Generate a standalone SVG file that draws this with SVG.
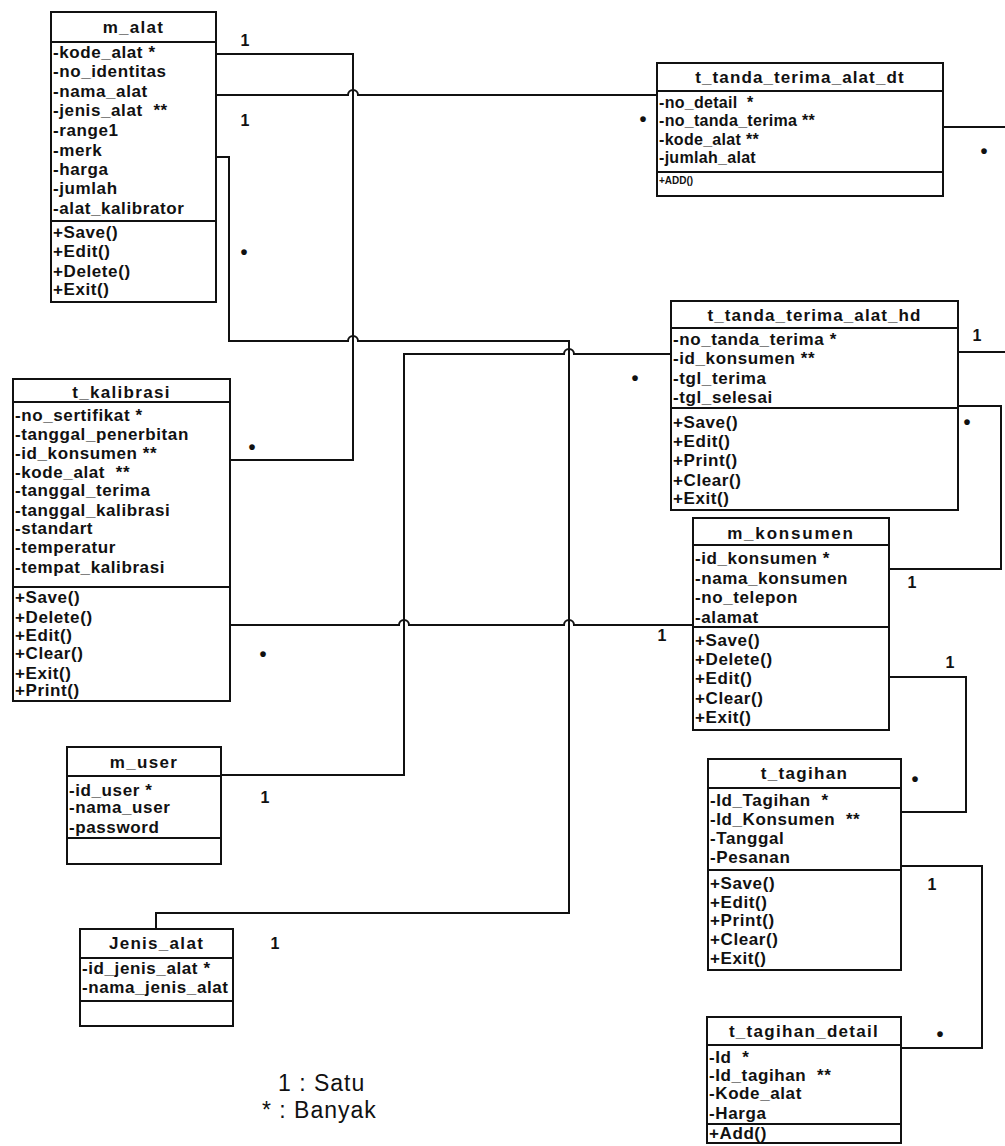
<svg xmlns="http://www.w3.org/2000/svg" width="1005" height="1146" viewBox="0 0 1005 1146">
  <style>
    .box { fill: #fff; stroke: #111; stroke-width: 2; }
    .sep { stroke: #111; stroke-width: 2; }
    .title { font-family: "Liberation Sans", Arial, sans-serif; font-weight: bold; font-size: 17px; letter-spacing: 1.3px; text-anchor: middle; fill: #111; }
    .row { font-family: "Liberation Sans", Arial, sans-serif; font-weight: bold; font-size: 17px; letter-spacing: 0.6px; fill: #111; }
    .small { font-size: 16px; letter-spacing: 0.3px; }
    .tiny { font-size: 10px; letter-spacing: 0; }
    .conn path { fill: none; stroke: #111; stroke-width: 2; }
    .mult { font-family: "Liberation Sans", Arial, sans-serif; font-weight: bold; font-size: 16px; text-anchor: middle; fill: #111; }
    .many { font-family: "Liberation Sans", Arial, sans-serif; font-weight: bold; font-size: 20px; text-anchor: middle; fill: #111; }
    .legend { font-family: "Liberation Sans", Arial, sans-serif; font-size: 23px; letter-spacing: 1px; fill: #111; }
  </style>
  <rect width="1005" height="1146" fill="#fff"/>

  <!-- associations -->
  <g id="connectors" class="conn">
    <path d="M216,54 H353 V460 H230"/>
    <path d="M216,95 H348 A5,5 0 0 1 358,95 H657"/>
    <path d="M943,127 H1005"/>
    <path d="M216,157 H229 V341 H348 A5,5 0 0 1 358,341 H569 V913 H156 V929"/>
    <path d="M221,775 H404 V354 H564 A5,5 0 0 1 574,354 H671"/>
    <path d="M958,352 H1005"/>
    <path d="M230,625 H399 A5,5 0 0 1 409,625 H564 A5,5 0 0 1 574,625 H693"/>
    <path d="M958,406 H1001 V569 H889"/>
    <path d="M889,677 H966 V812 H901"/>
    <path d="M901,866 H982 V1048 H901"/>
  </g>

  <!-- multiplicities -->
  <g id="multiplicities">
    <text class="mult" x="245" y="46">1</text>
    <text class="mult" x="245" y="126">1</text>
    <text class="mult" x="977" y="341">1</text>
    <text class="mult" x="662" y="641">1</text>
    <text class="mult" x="912" y="588">1</text>
    <text class="mult" x="950" y="668">1</text>
    <text class="mult" x="932" y="890">1</text>
    <text class="mult" x="265" y="803">1</text>
    <text class="mult" x="275" y="949">1</text>
    <text class="many" x="252" y="454">•</text>
    <text class="many" x="643" y="126">•</text>
    <text class="many" x="984" y="158">•</text>
    <text class="many" x="244" y="259">•</text>
    <text class="many" x="635" y="385">•</text>
    <text class="many" x="967" y="429">•</text>
    <text class="many" x="263" y="661">•</text>
    <text class="many" x="915" y="786">•</text>
    <text class="many" x="940" y="1041">•</text>
  </g>

  <g id="m_alat">
    <rect class="box" x="51" y="12" width="165" height="290"/>
    <line class="sep" x1="51" y1="42" x2="216" y2="42"/>
    <line class="sep" x1="51" y1="221" x2="216" y2="221"/>
    <text class="title" x="133.5" y="33">m_alat</text>
    <text class="row" x="53" y="58">-kode_alat *</text>
    <text class="row" x="53" y="77">-no_identitas</text>
    <text class="row" x="53" y="97">-nama_alat</text>
    <text class="row" x="53" y="116" xml:space="preserve">-jenis_alat  **</text>
    <text class="row" x="53" y="136">-range1</text>
    <text class="row" x="53" y="156">-merk</text>
    <text class="row" x="53" y="175">-harga</text>
    <text class="row" x="53" y="194">-jumlah</text>
    <text class="row" x="53" y="214">-alat_kalibrator</text>
    <text class="row" x="53" y="238">+Save()</text>
    <text class="row" x="53" y="257">+Edit()</text>
    <text class="row" x="53" y="277">+Delete()</text>
    <text class="row" x="53" y="295">+Exit()</text>
  </g>

  <g id="t_tanda_terima_alat_dt">
    <rect class="box" x="657" y="63" width="286" height="133"/>
    <line class="sep" x1="657" y1="91" x2="943" y2="91"/>
    <line class="sep" x1="657" y1="172" x2="943" y2="172"/>
    <text class="title" x="800" y="83" style="letter-spacing:1.1px">t_tanda_terima_alat_dt</text>
    <text class="row small" x="659" y="108" xml:space="preserve">-no_detail  *</text>
    <text class="row small" x="659" y="126">-no_tanda_terima **</text>
    <text class="row small" x="659" y="145">-kode_alat **</text>
    <text class="row small" x="659" y="163">-jumlah_alat</text>
    <text class="row tiny" x="659" y="184">+ADD()</text>
  </g>

  <g id="t_kalibrasi">
    <rect class="box" x="13" y="379" width="217" height="322"/>
    <line class="sep" x1="13" y1="402" x2="230" y2="402"/>
    <line class="sep" x1="13" y1="587" x2="230" y2="587"/>
    <text class="title" x="121.5" y="398">t_kalibrasi</text>
    <text class="row" x="15" y="421">-no_sertifikat *</text>
    <text class="row" x="15" y="440">-tanggal_penerbitan</text>
    <text class="row" x="15" y="459">-id_konsumen **</text>
    <text class="row" x="15" y="478" xml:space="preserve">-kode_alat  **</text>
    <text class="row" x="15" y="496">-tanggal_terima</text>
    <text class="row" x="15" y="516">-tanggal_kalibrasi</text>
    <text class="row" x="15" y="534">-standart</text>
    <text class="row" x="15" y="553">-temperatur</text>
    <text class="row" x="15" y="573">-tempat_kalibrasi</text>
    <text class="row" x="15" y="603">+Save()</text>
    <text class="row" x="15" y="623">+Delete()</text>
    <text class="row" x="15" y="641">+Edit()</text>
    <text class="row" x="15" y="659">+Clear()</text>
    <text class="row" x="15" y="679">+Exit()</text>
    <text class="row" x="15" y="696">+Print()</text>
  </g>

  <g id="t_tanda_terima_alat_hd">
    <rect class="box" x="671" y="301" width="287" height="209"/>
    <line class="sep" x1="671" y1="328" x2="958" y2="328"/>
    <line class="sep" x1="671" y1="408" x2="958" y2="408"/>
    <text class="title" x="814.5" y="321" style="letter-spacing:1.1px">t_tanda_terima_alat_hd</text>
    <text class="row" x="673" y="345">-no_tanda_terima *</text>
    <text class="row" x="673" y="364">-id_konsumen **</text>
    <text class="row" x="673" y="384">-tgl_terima</text>
    <text class="row" x="673" y="403">-tgl_selesai</text>
    <text class="row" x="673" y="428">+Save()</text>
    <text class="row" x="673" y="447">+Edit()</text>
    <text class="row" x="673" y="466">+Print()</text>
    <text class="row" x="673" y="486">+Clear()</text>
    <text class="row" x="673" y="504">+Exit()</text>
  </g>

  <g id="m_konsumen">
    <rect class="box" x="693" y="518" width="196" height="212"/>
    <line class="sep" x1="693" y1="545" x2="889" y2="545"/>
    <line class="sep" x1="693" y1="627" x2="889" y2="627"/>
    <text class="title" x="791" y="539" style="letter-spacing:1.8px">m_konsumen</text>
    <text class="row" x="695" y="564">-id_konsumen *</text>
    <text class="row" x="695" y="584">-nama_konsumen</text>
    <text class="row" x="695" y="603">-no_telepon</text>
    <text class="row" x="695" y="623">-alamat</text>
    <text class="row" x="695" y="646">+Save()</text>
    <text class="row" x="695" y="665">+Delete()</text>
    <text class="row" x="695" y="684">+Edit()</text>
    <text class="row" x="695" y="704">+Clear()</text>
    <text class="row" x="695" y="723">+Exit()</text>
  </g>

  <g id="t_tagihan">
    <rect class="box" x="708" y="759" width="193" height="211"/>
    <line class="sep" x1="708" y1="788" x2="901" y2="788"/>
    <line class="sep" x1="708" y1="870" x2="901" y2="870"/>
    <text class="title" x="804.5" y="779">t_tagihan</text>
    <text class="row" x="710" y="806" xml:space="preserve">-Id_Tagihan  *</text>
    <text class="row" x="710" y="825" xml:space="preserve">-Id_Konsumen  **</text>
    <text class="row" x="710" y="844">-Tanggal</text>
    <text class="row" x="710" y="863">-Pesanan</text>
    <text class="row" x="710" y="889">+Save()</text>
    <text class="row" x="710" y="908">+Edit()</text>
    <text class="row" x="710" y="926">+Print()</text>
    <text class="row" x="710" y="945">+Clear()</text>
    <text class="row" x="710" y="964">+Exit()</text>
  </g>

  <g id="t_tagihan_detail">
    <rect class="box" x="707" y="1017" width="194" height="126"/>
    <line class="sep" x1="707" y1="1045" x2="901" y2="1045"/>
    <line class="sep" x1="707" y1="1124" x2="901" y2="1124"/>
    <text class="title" x="804" y="1037">t_tagihan_detail</text>
    <text class="row" x="709" y="1063" xml:space="preserve">-Id  *</text>
    <text class="row" x="709" y="1081" xml:space="preserve">-Id_tagihan  **</text>
    <text class="row" x="709" y="1099">-Kode_alat</text>
    <text class="row" x="709" y="1119">-Harga</text>
    <text class="row" x="709" y="1139">+Add()</text>
  </g>

  <g id="m_user">
    <rect class="box" x="67" y="747" width="154" height="117"/>
    <line class="sep" x1="67" y1="776" x2="221" y2="776"/>
    <line class="sep" x1="67" y1="838" x2="221" y2="838"/>
    <text class="title" x="144" y="768">m_user</text>
    <text class="row" x="69" y="796">-id_user *</text>
    <text class="row" x="69" y="813">-nama_user</text>
    <text class="row" x="69" y="833">-password</text>
  </g>

  <g id="Jenis_alat">
    <rect class="box" x="80" y="929" width="153" height="97"/>
    <line class="sep" x1="80" y1="958" x2="233" y2="958"/>
    <line class="sep" x1="80" y1="1001" x2="233" y2="1001"/>
    <text class="title" x="156.5" y="949">Jenis_alat</text>
    <text class="row" x="82" y="974">-id_jenis_alat *</text>
    <text class="row" x="82" y="993">-nama_jenis_alat</text>
  </g>

  <!-- key to the multiplicity marks -->
  <g id="legend">
    <text class="legend" x="278" y="1091">1 : Satu</text>
    <text class="legend" x="262" y="1118">* : Banyak</text>
  </g>
</svg>
